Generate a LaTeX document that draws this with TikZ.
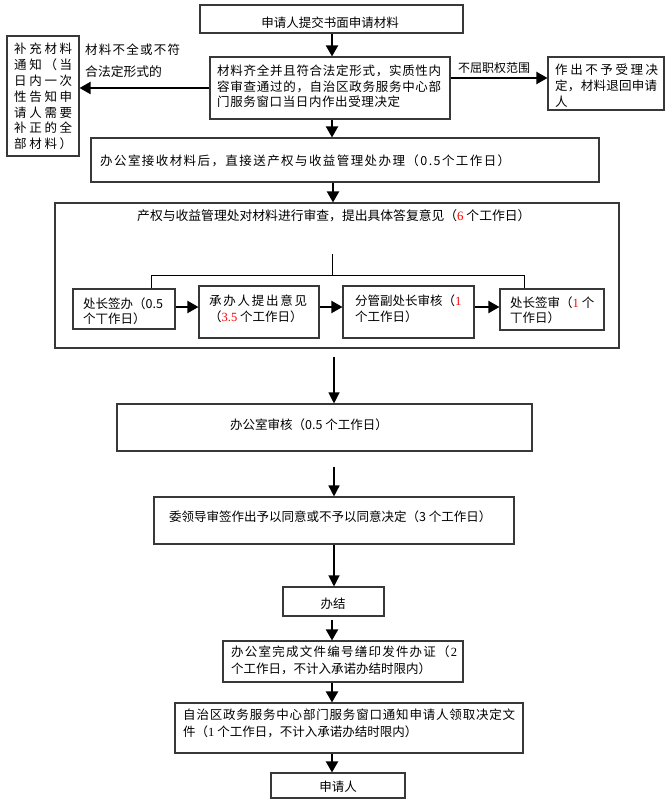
\documentclass[tikz,border=0pt]{standalone}
\usepackage{fontspec}
\setmainfont{Noto Sans CJK SC}
\newfontfamily\tnr{Liberation Serif}
\usetikzlibrary{arrows.meta}
\newcommand\spr[3]{\hbox to #1{\sprloop#2\relax#3}}
\def\sprloop#1{\ifx\relax#1\else#1\hfil\expandafter\sprloop\fi}
\begin{document}
\begin{tikzpicture}[x=1pt,y=-1pt,
 box/.style={draw=black!78, line width=1.1pt, inner sep=0pt},
 txt/.style={inner sep=0pt, font=\fontsize{12.5}{15.8}\selectfont, align=left, anchor=base west},
 ctxt/.style={inner sep=0pt, font=\fontsize{12.5}{15.8}\selectfont, anchor=base},
 arr/.style={line width=2pt, -{Triangle[length=11pt,width=12pt]}},
 arrthin/.style={line width=1.2pt, -{Triangle[length=11pt,width=11pt]}},
 ln/.style={line width=1pt}]
\useasboundingbox (0,0) rectangle (670,810);
\fill[white] (0,0) rectangle (670,810);
\coordinate (sp) at (332,0);
\coordinate (sp2) at (334,0);
% boxes
\node[box, minimum width=263pt, minimum height=28pt] (b1) at (331.5,19) {};
\node[box, minimum width=240pt, minimum height=62pt] (b2) at (330,88) {};
\node[box, minimum width=72pt, minimum height=120pt] (bl) at (43,96) {};
\node[box, minimum width=116pt, minimum height=53pt] (br) at (606,83.5) {};
\node[box, minimum width=508pt, minimum height=44pt] (b3) at (345,160) {};
\node[box, minimum width=564pt, minimum height=145pt] (b4) at (337,275.5) {};
\node[box, minimum width=102pt, minimum height=40pt] (ba) at (124,309) {};
\node[box, minimum width=120pt, minimum height=52pt] (bb) at (259,312) {};
\node[box, minimum width=131pt, minimum height=52pt] (bc) at (408.5,312) {};
\node[box, minimum width=104pt, minimum height=41pt] (bd) at (552,309.5) {};
\node[box, minimum width=415pt, minimum height=47pt] (b5) at (324.5,427.5) {};
\node[box, minimum width=360pt, minimum height=47pt] (b6) at (334,520.5) {};
\node[box, minimum width=101pt, minimum height=29pt] (b7) at (333.5,601.5) {};
\node[box, minimum width=240pt, minimum height=41pt] (b8) at (343,661.5) {};
\node[box, minimum width=348pt, minimum height=50pt] (b9) at (349,728) {};
\node[box, minimum width=134pt, minimum height=25pt] (b10) at (338,785.5) {};
% texts (multi-line nodes are placed by the baseline of their last line)
\node[ctxt] (t1) at (330,27.7) {申请人提交书面申请材料};
\node[txt] (t2) at (217,107.0) {\spr{224pt}{材料齐全并且符合法定形式，实质性内}{\unskip}\\
 \spr{224pt}{容审查通过的，自治区政务服务中心部}{\unskip}\\
 \spr{183pt}{门服务窗口当日内作出受理决定}{\unskip}};
\node[txt] (tl1) at (85,54.7) {\spr{95pt}{材料不全或不符}{\unskip}};
\node[txt, font=\fontsize{12.8}{16}\selectfont] (tl2) at (85,76.4) {合法定形式的};
\node[txt] (tbl) at (14,148.8) {\spr{58pt}{补充材料}{\unskip}\\ \spr{58pt}{通知（当}{\unskip}\\
 \spr{58pt}{日内一次}{\unskip}\\ \spr{58pt}{性告知申}{\unskip}\\ \spr{58pt}{请人需要}{\unskip}\\
 \spr{58pt}{补正的全}{\unskip}\\ \spr{58pt}{部材料）}{\unskip}};
\node[ctxt, font=\fontsize{12}{15}\selectfont] (tr) at (494,72.8) {不屈职权范围};
\node[txt] (tbr) at (555,106.3) {\spr{103pt}{作出不予受理决}{\unskip}\\ \spr{102pt}{定，材料退回申请}{\unskip}\\ 人};
\node[txt] (t3) at (100,165.7) {\spr{410pt}{办公室接收材料后，直接送产权与收益管理处办理（0.5个工作日）}{\unskip}};
\node[txt, font=\fontsize{12.8}{16}\selectfont] (t4) at (137,220.3) {产权与收益管理处对材料进行审查，提出具体答复意见（{\color{red}\tnr 6} 个工作日）};
\node[txt, font=\fontsize{12.5}{15}\selectfont] (ta) at (83,323) {处长签办（0.5\\ 个丅作日）};
\node[txt, font=\fontsize{12.5}{16.4}\selectfont] (tb) at (209,321.4) {\spr{98pt}{承办人提出意见}{\unskip}\\ （{\color{red}\tnr 3.5} 个工作日）};
\node[txt, font=\fontsize{12.5}{16.4}\selectfont] (tc) at (355,321.8) {分管副处长审核（{\color{red}\tnr 1}\\ 个工作日）};
\node[txt, font=\fontsize{12.5}{15}\selectfont] (td) at (510,322.7) {处长签审（{\color{red}\tnr 1} 个\\ 丅作日）};
\node[txt] (t5) at (230,429.7) {办公室审核（0.5 个工作日）};
\node[txt] (t6) at (169,521.7) {委领导审签作出予以同意或不予以同意决定（3 个工作日）};
\node[ctxt] (t7) at (333,608) {办结};
\node[txt, font=\fontsize{12.5}{16.6}\selectfont] (t8) at (231,673) {\spr{226pt}{办公室完成文件编号缮印发件办证（}{{\tnr 2}}\\ 个工作日，不计入承诺办结时限内）};
\node[txt, font=\fontsize{12.5}{16.6}\selectfont] (t9) at (183,736.3) {\spr{332pt}{自治区政务服务中心部门服务窗口通知申请人领取决定文}{\unskip}\\ 件（{\tnr 1} 个工作日，不计入承诺办结时限内）};
\node[ctxt] (t10) at (338,791.7) {申请人};
% connectors
\draw[arr] (b1.south -| sp) -- (b2.north -| sp);
\draw[arr] (b2.west) -- (b2.west -| bl.east);
\draw[arr] ([yshift=10pt]b2.east) -- ([yshift=10pt]b2.east -| br.west);
\draw[arr] (b2.south -| sp) -- (b3.north -| sp);
\draw[arr] ([xshift=1pt]b3.south -| sp) -- ([xshift=1pt]b4.north -| sp);
\coordinate (brtop) at (332,254);
\coordinate (brmid) at (332,276);
\draw[ln] (brtop) -- (brmid);
\draw[ln] ([xshift=27pt]ba.north) -- ++(0,-13) -| ([xshift=-28pt]bd.north);
\draw[arr] ([yshift=2pt]ba.east) -- ([yshift=2pt]ba.east -| bb.west);
\draw[arr] ([yshift=5pt]bb.east) -- ([yshift=5pt]bb.east -| bc.west);
\draw[arr] ([yshift=5pt]bc.east) -- ([yshift=5pt]bc.east -| bd.west);
\draw[arrthin] ([yshift=-8pt]b4.south -| sp2) -- (b5.north -| sp2);
\draw[arrthin, line width=1.5pt] ([yshift=-15pt]b5.south -| sp2) -- (b6.north -| sp2);
\draw[arrthin] (b6.south -| sp2) -- (b7.north -| sp2);
\draw[arr] ([yshift=-3pt]b7.south -| sp) -- (b8.north -| sp);
\draw[arr] (b8.south -| sp) -- (b9.north -| sp);
\draw[arr] (b9.south -| sp) -- (b10.north -| sp);
\end{tikzpicture}
\end{document}
